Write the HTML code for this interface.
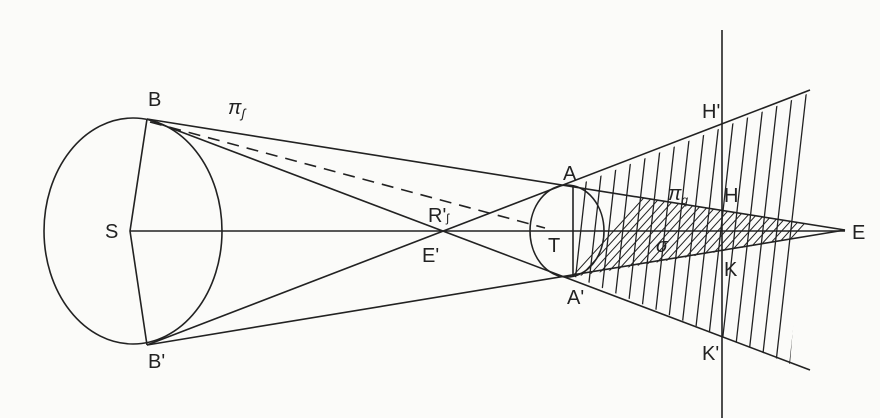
<!DOCTYPE html>
<html><head><style>body{margin:0;background:#fbfbf9}svg{display:block}text{font-family:"Liberation Sans",sans-serif;font-size:20px;fill:#222}</style></head><body>
<svg width="880" height="418" viewBox="0 0 880 418">
<defs>
<clipPath id="pen"><polygon points="575,186 812,92 790,364 575,277"/></clipPath>
<clipPath id="umb"><polygon points="573,186 845,230 573,277"/></clipPath>
</defs>
<rect width="880" height="418" fill="#fbfbf9"/>
<g stroke="#222" stroke-width="1.6" fill="none">
<ellipse cx="133" cy="231" rx="89" ry="113"/>
<ellipse cx="567" cy="231" rx="37" ry="46"/>
<line x1="130" y1="231" x2="845" y2="231"/>
<polyline points="147,119 130,231 147,345"/>
<line x1="573" y1="185" x2="573" y2="277"/>
<line x1="147" y1="119" x2="845" y2="230"/>
<line x1="147" y1="345" x2="845" y2="230"/>
<line x1="147" y1="119" x2="810" y2="370"/>
<line x1="147" y1="345" x2="810" y2="90"/>
<line x1="722" y1="30" x2="722" y2="418"/>
<line x1="150" y1="122" x2="545" y2="228" stroke-dasharray="12,8"/>
<g clip-path="url(#pen)" stroke-width="1.3">
<path d="M600,60 l-36,320 M614,60 l-36,320 M628,60 l-36,320 M642,60 l-36,320 M656,60 l-36,320 M670,60 l-36,320 M684,60 l-36,320 M698,60 l-36,320 M712,60 l-36,320 M726,60 l-36,320 M740,60 l-36,320 M754,60 l-36,320 M768,60 l-36,320 M782,60 l-36,320 M796,60 l-36,320 M810,60 l-36,320 M824,60 l-36,320 M838,60 l-36,320"/>
</g>
<g clip-path="url(#umb)" stroke-width="1">
<path d="M560,290 l100,-110 M568,290 l100,-110 M576,290 l100,-110 M584,290 l100,-110 M592,290 l100,-110 M600,290 l100,-110 M608,290 l100,-110 M616,290 l100,-110 M624,290 l100,-110 M632,290 l100,-110 M640,290 l100,-110 M648,290 l100,-110 M656,290 l100,-110 M664,290 l100,-110 M672,290 l100,-110 M680,290 l100,-110 M688,290 l100,-110 M696,290 l100,-110 M704,290 l100,-110 M712,290 l100,-110 M720,290 l100,-110 M728,290 l100,-110 M736,290 l100,-110 M744,290 l100,-110"/>
</g>
</g>
<text x="148" y="106">B</text>
<text x="148" y="368">B'</text>
<text x="105" y="238">S</text>
<text x="228" y="114" font-style="italic">π<tspan font-size="13" dy="4">ʃ</tspan></text>
<text x="428" y="222" font-size="17">R'<tspan font-size="12">ʃ</tspan></text>
<text x="422" y="262" font-size="17">E'</text>
<text x="563" y="180">A</text>
<text x="567" y="304">A'</text>
<text x="548" y="252" font-size="18">T</text>
<text x="668" y="200" font-style="italic" font-size="18">π<tspan font-size="12" dy="4">q</tspan></text>
<text x="656" y="252" font-size="16" font-style="italic">σ</text>
<text x="702" y="118" font-size="17">H'</text>
<text x="724" y="202" font-size="17">H</text>
<text x="724" y="276" font-size="17">K</text>
<text x="702" y="360" font-size="17">K'</text>
<text x="852" y="239">E</text>
</svg>
</body></html>
